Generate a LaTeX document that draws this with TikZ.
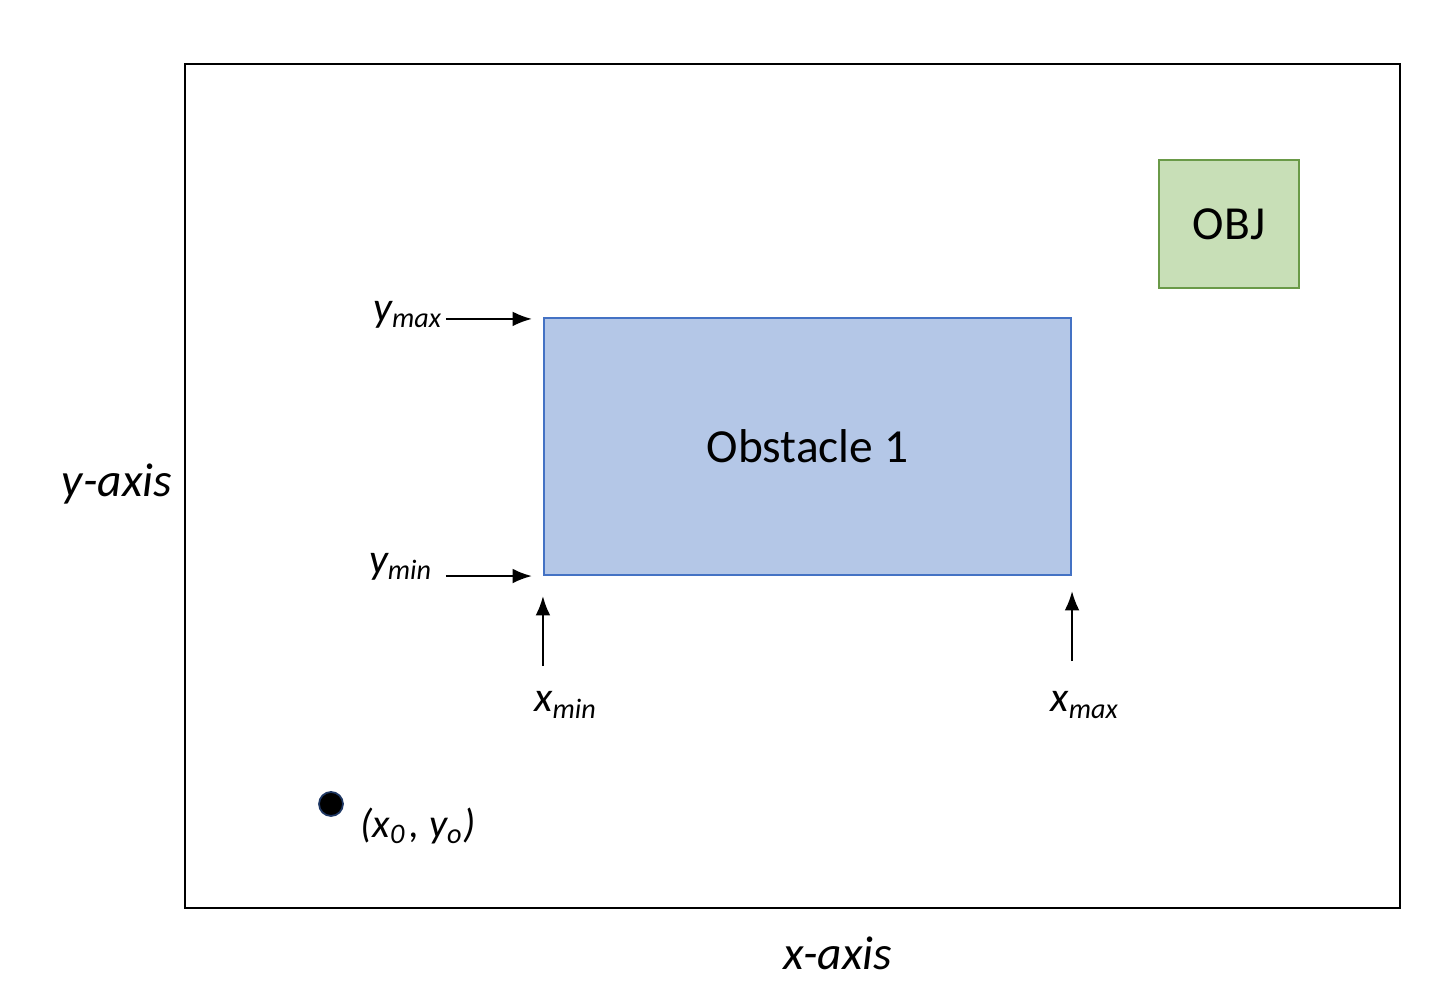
\documentclass[tikz,border=0pt]{standalone}
\definecolor{obstblue}{RGB}{180,199,231}
\definecolor{obstedge}{RGB}{68,114,196}
\definecolor{objgreen}{RGB}{200,223,183}
\definecolor{objedge}{RGB}{106,154,72}
\definecolor{dotedge}{RGB}{31,56,100}
\usepackage{fontspec}
\setmainfont{Carlito}
\usepackage{tikz}
\usetikzlibrary{arrows.meta,positioning}

\begin{document}
\begin{tikzpicture}[
    bound/.style={arrows={-Latex[length=5.5pt,width=4.2pt]},line width=0.6pt},
    lbl/.style={font=\fontsize{12}{14}\selectfont\itshape,inner sep=0pt},
    big/.style={font=\fontsize{13.5}{16}\selectfont}
]
    \useasboundingbox (0,0) rectangle (14.54,10.08);
    % workspace with one obstacle and the target
    \node[draw,line width=0.6pt,minimum width=12.15cm,minimum height=8.44cm,inner sep=0pt] (frame) at (7.925,5.22) {};
    \node[draw=obstedge,line width=0.6pt,fill=obstblue,minimum width=5.27cm,minimum height=2.57cm,inner sep=0pt,big] (obs) at (8.075,5.615) {Obstacle 1};
    \node[draw=objedge,line width=0.7pt,fill=objgreen,minimum width=1.40cm,minimum height=1.28cm,inner sep=0pt,big] (obj) at (12.29,7.84) {OBJ};

    \node[lbl] (ymax) at (4.08,6.93) {y\textsubscript{max}};
    \node[lbl] (ymin) at (4.01,4.41) {y\textsubscript{min}};
    \node[lbl] (xmin) at (5.66,3.03) {x\textsubscript{min}};
    \node[lbl] (xmax) at (10.85,3.03) {x\textsubscript{max}};

    \draw[bound] ([xshift=-0.97cm,yshift=-0.02cm]obs.north west) -- ([xshift=-0.11cm,yshift=-0.02cm]obs.north west);
    \draw[bound] ([xshift=-0.97cm]obs.south west) -- ([xshift=-0.11cm]obs.south west);
    \draw[bound] ([yshift=-0.90cm]obs.south west) -- ([yshift=-0.20cm]obs.south west);
    \draw[bound] ([yshift=-0.85cm]obs.south east) -- ([yshift=-0.15cm]obs.south east);

    % start point
    \node[circle,fill=black,draw=dotedge,line width=0.5pt,minimum size=0.24cm,inner sep=0pt] (start) at (3.31,2.04) {};
    \node[lbl,font=\fontsize{11.5}{14}\selectfont\itshape] (startlbl) at (4.18,1.82) {(x\textsubscript{0}\kern1pt, y\textsubscript{o})};

    \node[font=\fontsize{13.5}{16}\selectfont\itshape] (yaxis) at (1.17,5.24) {y-axis};
    \node[font=\fontsize{13.5}{16}\selectfont\itshape] (xaxis) at (8.38,0.55) {x-axis};
\end{tikzpicture}
\end{document}
